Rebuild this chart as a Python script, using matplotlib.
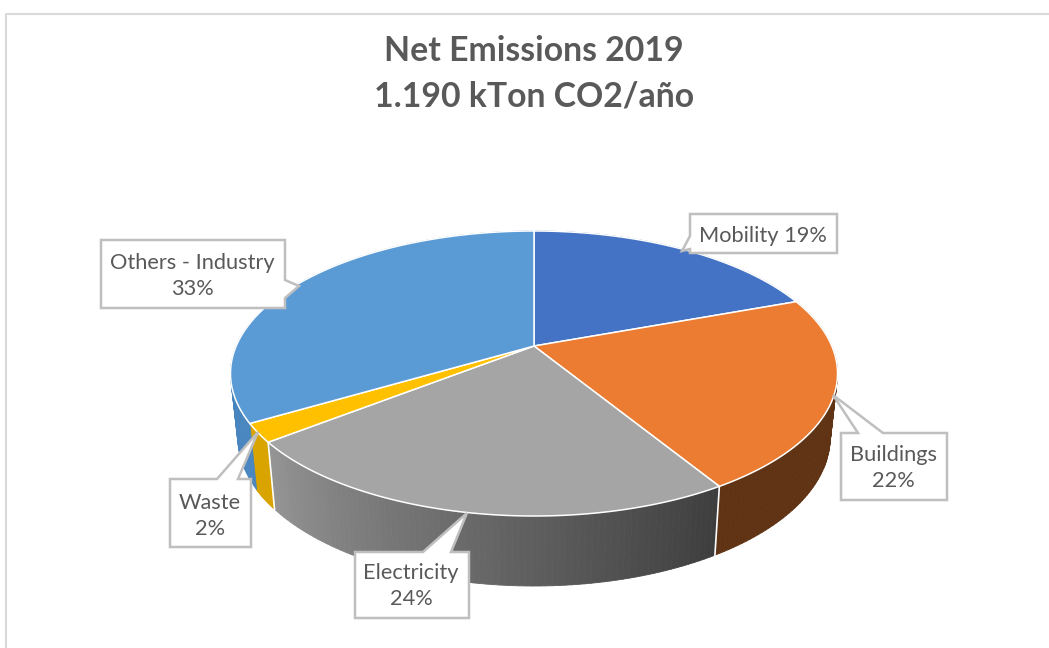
import numpy as np
import matplotlib
matplotlib.use('Agg')
import matplotlib.pyplot as plt
from matplotlib.collections import PolyCollection
from matplotlib.patches import Polygon

# shares measured from the slices, the printed labels are rounded differently
categories = ['Mobility', 'Buildings', 'Electricity', 'Waste', 'Others - Industry']
shares = [19.4, 21.9, 23.1, 2.1, 33.5]
labels = ['Mobility 19%', 'Buildings\n22%', 'Electricity\n24%', 'Waste\n2%', 'Others - Industry\n33%']
top_colors = ['#4472c4', '#eb7c31', '#a5a5a5', '#ffc000', '#5b9bd5']
wall_start = ['#2f5597', '#5f3314', '#3e3e3e', '#d9a300', '#4a86bf']
wall_end = ['#2f5597', '#5f3314', '#949494', '#d9a300', '#3f7db8']

# projection of the pie disc, in pixels
CX, CY = 534, 346
RX, RY = 297.8, 137.2
PERSP = 0.193


def top_xy(t):
    u, v = np.sin(t), np.cos(t)
    d = 1 + PERSP * v
    return CX + RX * u / d, CY - RY * v / d


def bottom_xy(t):
    x, y = top_xy(t)
    return CX + 0.976 * (x - CX), y + 62 - 8 * np.cos(t)


def to_rgb(c):
    return np.array(matplotlib.colors.to_rgb(c))


plt.rcParams['font.family'] = ['Lato', 'DejaVu Sans']
fig = plt.figure(figsize=(10.49, 6.48), dpi=100)
ax = fig.add_axes([0, 0, 1, 1])
ax.set_xlim(0, 1049)
ax.set_ylim(648, 0)
ax.axis('off')

# chart frame
ax.plot([6, 6, 1049], [648, 14, 14], color='#d9d9d9', lw=1.5)

edges = np.cumsum([0] + shares) / sum(shares) * 2 * np.pi

# side walls first, the top faces cover whatever is behind
for i in range(len(shares)):
    ts = np.linspace(edges[i], edges[i + 1], 80)
    polys = []
    cols = []
    for j in range(len(ts) - 1):
        x0, y0 = top_xy(ts[j])
        x1, y1 = top_xy(ts[j + 1])
        x2, y2 = bottom_xy(ts[j + 1])
        x3, y3 = bottom_xy(ts[j])
        polys.append([(x0, y0), (x1, y1), (x2, y2), (x3, y3)])
        f = j / (len(ts) - 2)
        cols.append((1 - f) * to_rgb(wall_start[i]) + f * to_rgb(wall_end[i]))
    ax.add_collection(PolyCollection(polys, facecolors=cols, edgecolors=cols, linewidths=0.6, zorder=2))

# white seams between the visible walls
for e in edges[1:4]:
    x0, y0 = top_xy(e)
    x1, y1 = bottom_xy(e)
    ax.plot([x0, x1], [y0, y1], color='white', lw=1.2, zorder=3)

for i in range(len(shares)):
    ts = np.linspace(edges[i], edges[i + 1], 120)
    x, y = top_xy(ts)
    pts = np.column_stack([np.r_[CX, x], np.r_[CY, y]])
    ax.add_patch(Polygon(pts, closed=True, facecolor=top_colors[i], edgecolor='white', lw=1.1, zorder=4))

# callouts: outline with pointer, then the text
callouts = [
    [(690, 214), (837, 214), (837, 253), (690, 253), (690, 249), (682, 251), (690, 236)],
    [(841, 433), (858, 433), (833, 395), (883, 433), (947, 433), (947, 500), (841, 500)],
    [(355, 552), (423, 552), (467, 513), (451, 552), (469, 552), (469, 618), (355, 618)],
    [(170, 479), (217, 479), (258, 432), (238, 479), (251, 479), (251, 547), (170, 547)],
    [(101, 240), (285, 240), (285, 280), (299, 286), (285, 298), (285, 308), (101, 308)],
]
text_pos = [(763, 236), (893, 468), (411, 586), (210, 516), (192, 276)]
for outline, (tx, ty), lab in zip(callouts, text_pos, labels):
    ax.add_patch(Polygon(outline, closed=True, facecolor='white', edgecolor='#bfbfbf', lw=1.8, zorder=5))
    ax.text(tx, ty, lab, ha='center', va='center', fontsize=15.7, color='#595959',
            linespacing=1.4, zorder=6)

ax.text(534, 51, 'Net Emissions 2019', ha='center', va='center', fontsize=24.3,
        fontweight='bold', color='#595959')
ax.text(534, 97, '1.190 kTon CO2/año', ha='center', va='center', fontsize=24.3,
        fontweight='bold', color='#595959')

plt.savefig('out.png', dpi=100)
